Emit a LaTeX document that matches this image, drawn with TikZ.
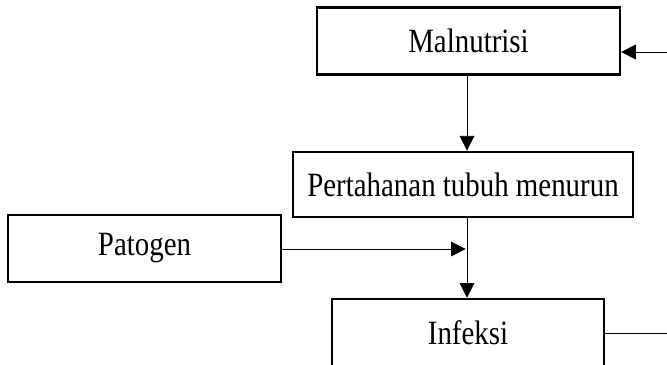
\documentclass[tikz,border=0pt]{standalone}
\usepackage{fontspec}
\setmainfont{Liberation Serif}[FakeStretch=0.85]
\usetikzlibrary{arrows.meta}

\tikzstyle{box} = [draw, line width=1.9pt, inner sep=0pt, font=\fontsize{25.5}{30}\selectfont]
\tikzstyle{arr} = [-{Triangle[length=11pt,width=11pt]}, line width=0.6pt]

\begin{document}
\begin{tikzpicture}[x=0.75pt, y=-0.75pt]
\useasboundingbox (0,0) rectangle (667,364);
\clip (0,0) rectangle (667,364);

\node[box, minimum width=227pt, minimum height=50pt] (mal) at (468.5,41) {Malnutrisi};
\node[box, minimum width=255pt, minimum height=49pt] (per) at (463,184.5) {Pertahanan tubuh menurun};
\node[box, minimum width=205pt, minimum height=50pt] (pat) at (144.5,248.5) {Patogen};
\node[box, minimum width=204pt, minimum height=51pt] (inf) at (468,333) {Infeksi};

\coordinate (ax) at (467,249);
\coordinate (fbd) at (720,333);
\coordinate (fbu) at (720,52);

\draw[arr] (mal.south -| ax) -- (per.north -| ax);
\draw[arr] (per.south -| ax) -- (inf.north -| ax);
\draw[arr] (pat.east |- ax) -- ([xshift=-1pt]ax);
% umpan balik ke malnutrisi
\draw[arr] (inf.east |- fbd) -- (fbd) -- (fbu) -- (mal.east |- fbu);
\end{tikzpicture}
\end{document}
